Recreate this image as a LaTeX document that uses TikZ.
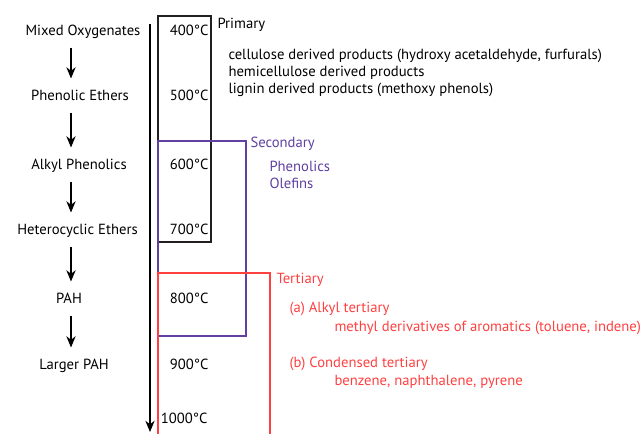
\documentclass[tikz,border=0pt]{standalone}
\usepackage{fontspec}
\setmainfont{PT Sans}
\usetikzlibrary{arrows.meta}
\definecolor{primcol}{RGB}{35,31,32}
\definecolor{seccol}{RGB}{96,64,160}
\definecolor{tercol}{RGB}{255,64,64}
\tikzset{every picture/.style={line width=0.75pt}}

\begin{document}
\begin{tikzpicture}[x=0.75pt,y=0.75pt,yscale=-1,xscale=1,
  lbl/.style={inner sep=0.75pt,font=\fontsize{11}{12.75}\selectfont},
  rowlbl/.style={lbl,text height=8pt,text depth=2.5pt},
  flow/.style={-{Stealth[length=8.5pt,width=7pt]},line width=0.9pt,shorten <=5.25pt,shorten >=7.5pt}]
%set diagram at 644 x 433
\useasboundingbox (0,0) rectangle (644,433);

% Compound classes
\node[rowlbl] (mo) at (83,32) {Mixed Oxygenates};
\node[rowlbl] (pe) at (80,97) {Phenolic Ethers};
\node[rowlbl] (ap) at (79,166) {Alkyl Phenolics};
\node[rowlbl] (he) at (77.5,231) {Heterocyclic Ethers};
\node[rowlbl] (pah) at (69,300) {PAH};
\node[rowlbl] (lp) at (74,366) {Larger PAH};
\coordinate (ax) at (71,0);
\draw[flow] (mo.south -| ax) -- (pe.north -| ax);
\draw[flow] (pe.south -| ax) -- (ap.north -| ax);
\draw[flow] (ap.south -| ax) -- (he.north -| ax);
\draw[flow] (he.south -| ax) -- (pah.north -| ax);
\draw[flow] (pah.south -| ax) -- (lp.north -| ax);

% Temperature axis
\coordinate (axtop) at (150,24);
\coordinate (axbot) at (150,432);
\draw[-{Stealth[length=8.5pt,width=7pt]},line width=0.9pt] (axtop) -- (axbot);

% Temperatures
\node[rowlbl,anchor=east] (t400) at (210,32) {400°C};
\node[rowlbl,anchor=east] (t500) at (210,97) {500°C};
\node[rowlbl,anchor=east] (t600) at (210,166) {600°C};
\node[rowlbl,anchor=east] (t700) at (210,231) {700°C};
\node[rowlbl,anchor=east] (t800) at (210,300) {800°C};
\node[rowlbl,anchor=east] (t900) at (210,366) {900°C};
\node[rowlbl,anchor=east] (t1000) at (209,420) {1000°C};

% Reaction regimes
\draw[primcol,line width=0.9pt] (158,16) rectangle (211,242);
\draw[seccol,line width=0.9pt] (158,141) rectangle (246,336);
\draw[tercol,line width=0.9pt] (158,445) -- (158,273) -- (270,273) -- (270,445);

% Primary
\node[rowlbl,anchor=west] (prim) at (216,25) {Primary};
\node[lbl,anchor=west,align=left] (primtxt) at (227,73) {cellulose derived products (hydroxy acetaldehyde, furfurals)\\hemicellulose derived products\\lignin derived products (methoxy phenols)};
% Secondary
\node[rowlbl,anchor=west,text=seccol] (sec) at (249,144) {Secondary};
\node[lbl,anchor=west,align=left,text=seccol] (sectxt) at (268,175) {Phenolics\\Olefins};
% Tertiary
\node[rowlbl,anchor=west,text=tercol] (ter) at (275,280) {Tertiary};
\node[rowlbl,anchor=west,text=tercol] (tera) at (288,309) {(a) Alkyl tertiary};
\node[rowlbl,anchor=west,text=tercol] (teratxt) at (333,328) {methyl derivatives of aromatics (toluene, indene)};
\node[rowlbl,anchor=west,text=tercol] (terb) at (288,364) {(b) Condensed tertiary};
\node[rowlbl,anchor=west,text=tercol] (terbtxt) at (333,382) {benzene, naphthalene, pyrene};

\end{tikzpicture}
\end{document}
